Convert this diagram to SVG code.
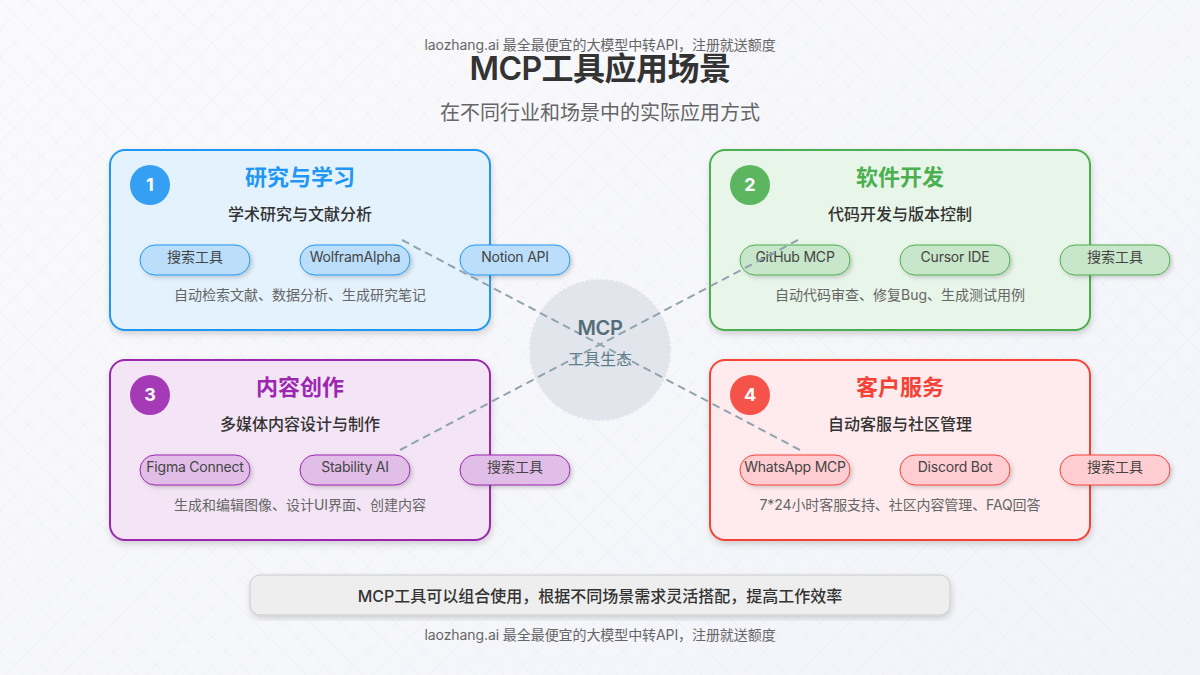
<svg xmlns="http://www.w3.org/2000/svg" width="1200" height="675" viewBox="0 0 1200 675">
<defs>
<linearGradient id="bg" x1="0" y1="0" x2="1" y2="1"><stop offset="0" stop-color="#fafafc"/><stop offset="1" stop-color="#f3f4fa"/></linearGradient>
<pattern id="grid" width="20" height="20" patternUnits="userSpaceOnUse" patternTransform="rotate(45)"><path d="M20 0H0V20" fill="none" stroke="#e6e8ee" stroke-width="1" opacity=".6"/></pattern>
<filter id="s1" x="-10%" y="-10%" width="120%" height="125%"><feDropShadow dx="1" dy="3" stdDeviation="3" flood-color="#000" flood-opacity=".16"/></filter>
<filter id="s2" x="-20%" y="-30%" width="140%" height="170%"><feDropShadow dx="2" dy="2" stdDeviation="2" flood-color="#000" flood-opacity=".18"/></filter>
</defs>
<style>
text{font-family:Inter,"Noto Sans CJK SC",sans-serif;text-anchor:middle}
.card{stroke-width:2;filter:url(#s1)}
.pill{stroke-width:1;filter:url(#s2)}
.num{fill:#fff;font-size:18px;font-weight:700}
.ttl{font-size:22px;font-weight:600}
.sub{font-size:16px;font-weight:500;fill:#333}
.pt{font-size:14px;fill:#444}
.lat{letter-spacing:-.22px}
.desc{font-size:14px;fill:#666}
.foot{font-size:14px;fill:#666;letter-spacing:-.08px}
.blue .card{fill:#e3f2fd;stroke:#2196f3}.blue .pill{fill:#bbdefb;stroke:#2196f3}.blue .b{fill:#2196f3;opacity:.9}.blue .ttl{fill:#2196f3}
.green .card{fill:#e8f5e9;stroke:#4caf50}.green .pill{fill:#c8e6c9;stroke:#4caf50}.green .b{fill:#4caf50;opacity:.9}.green .ttl{fill:#4caf50}
.purple .card{fill:#f3e5f5;stroke:#9c27b0}.purple .pill{fill:#e1bee7;stroke:#9c27b0}.purple .b{fill:#9c27b0;opacity:.9}.purple .ttl{fill:#9c27b0}
.red .card{fill:#ffebee;stroke:#f44336}.red .pill{fill:#ffcdd2;stroke:#f44336}.red .b{fill:#f44336;opacity:.9}.red .ttl{fill:#f44336}
</style>
<rect width="1200" height="675" fill="url(#bg)"/>
<rect width="1200" height="675" fill="url(#grid)"/>
<text class="foot" x="600" y="50">laozhang.ai 最全最便宜的大模型中转API，注册就送额度</text>
<text x="600" y="80" font-size="32" font-weight="600" fill="#333" letter-spacing="-.5">MCP工具应用场景</text>
<text x="600" y="120" font-size="20" fill="#666">在不同行业和场景中的实际应用方式</text>

<g id="card-1" class="blue">
<rect class="card" x="110" y="150" width="380" height="180" rx="15"/>
<circle class="b" cx="150" cy="185" r="20"/><text class="num" x="150" y="191">1</text>
<text class="ttl" x="300" y="185">研究与学习</text>
<text class="sub" x="300" y="220">学术研究与文献分析</text>
<rect class="pill" x="140" y="245" width="110" height="30" rx="15"/><text class="pt" x="195" y="262">搜索工具</text>
<rect class="pill" x="300" y="245" width="110" height="30" rx="15"/><text class="pt lat" x="355" y="262">WolframAlpha</text>
<rect class="pill" x="460" y="245" width="110" height="30" rx="15"/><text class="pt lat" x="515" y="262">Notion API</text>
<text class="desc" x="300" y="300">自动检索文献、数据分析、生成研究笔记</text>
</g>
<g id="card-2" class="green">
<rect class="card" x="710" y="150" width="380" height="180" rx="15"/>
<circle class="b" cx="750" cy="185" r="20"/><text class="num" x="750" y="191">2</text>
<text class="ttl" x="900" y="185">软件开发</text>
<text class="sub" x="900" y="220">代码开发与版本控制</text>
<rect class="pill" x="740" y="245" width="110" height="30" rx="15"/><text class="pt lat" x="795" y="262">GitHub MCP</text>
<rect class="pill" x="900" y="245" width="110" height="30" rx="15"/><text class="pt lat" x="955" y="262">Cursor IDE</text>
<rect class="pill" x="1060" y="245" width="110" height="30" rx="15"/><text class="pt" x="1115" y="262">搜索工具</text>
<text class="desc" x="900" y="300">自动代码审查、修复Bug、生成测试用例</text>
</g>
<g id="card-3" class="purple">
<rect class="card" x="110" y="360" width="380" height="180" rx="15"/>
<circle class="b" cx="150" cy="395" r="20"/><text class="num" x="150" y="401">3</text>
<text class="ttl" x="300" y="395">内容创作</text>
<text class="sub" x="300" y="430">多媒体内容设计与制作</text>
<rect class="pill" x="140" y="455" width="110" height="30" rx="15"/><text class="pt lat" x="195" y="472">Figma Connect</text>
<rect class="pill" x="300" y="455" width="110" height="30" rx="15"/><text class="pt lat" x="355" y="472">Stability AI</text>
<rect class="pill" x="460" y="455" width="110" height="30" rx="15"/><text class="pt" x="515" y="472">搜索工具</text>
<text class="desc" x="300" y="510">生成和编辑图像、设计UI界面、创建内容</text>
</g>
<g id="card-4" class="red">
<rect class="card" x="710" y="360" width="380" height="180" rx="15"/>
<circle class="b" cx="750" cy="395" r="20"/><text class="num" x="750" y="401">4</text>
<text class="ttl" x="900" y="395">客户服务</text>
<text class="sub" x="900" y="430">自动客服与社区管理</text>
<rect class="pill" x="740" y="455" width="110" height="30" rx="15"/><text class="pt lat" x="795" y="472">WhatsApp MCP</text>
<rect class="pill" x="900" y="455" width="110" height="30" rx="15"/><text class="pt lat" x="955" y="472">Discord Bot</text>
<rect class="pill" x="1060" y="455" width="110" height="30" rx="15"/><text class="pt" x="1115" y="472">搜索工具</text>
<text class="desc" x="900" y="510" letter-spacing="-.1">7*24小时客服支持、社区内容管理、FAQ回答</text>
</g>
<g id="hub">
<circle cx="600" cy="350" r="70" fill="#e2e6ec" stroke="#e2e6ec" stroke-width="2" stroke-dasharray="3 2"/>
</g>
<g id="connectors" fill="none" stroke="#90a4ae" stroke-width="2" stroke-dasharray="8 5">
<line x1="402" y1="240" x2="800" y2="450"/>
<line x1="798" y1="240" x2="400" y2="450"/>
</g>
<g id="hub-text">
<text x="600" y="335" font-size="20" font-weight="600" fill="#546e7a" letter-spacing="-.4">MCP</text>
<text x="600" y="365" font-size="16" fill="#607d8b">工具生态</text>
</g>
<g id="note">
<rect x="250" y="575" width="700" height="40" rx="10" fill="#eeeeee" stroke="#cccccc" filter="url(#s1)"/>
<text x="600" y="601.5" font-size="16" font-weight="500" fill="#333">MCP工具可以组合使用，根据不同场景需求灵活搭配，提高工作效率</text>
</g>
<text class="foot" x="600" y="640">laozhang.ai 最全最便宜的大模型中转API，注册就送额度</text>
</svg>
